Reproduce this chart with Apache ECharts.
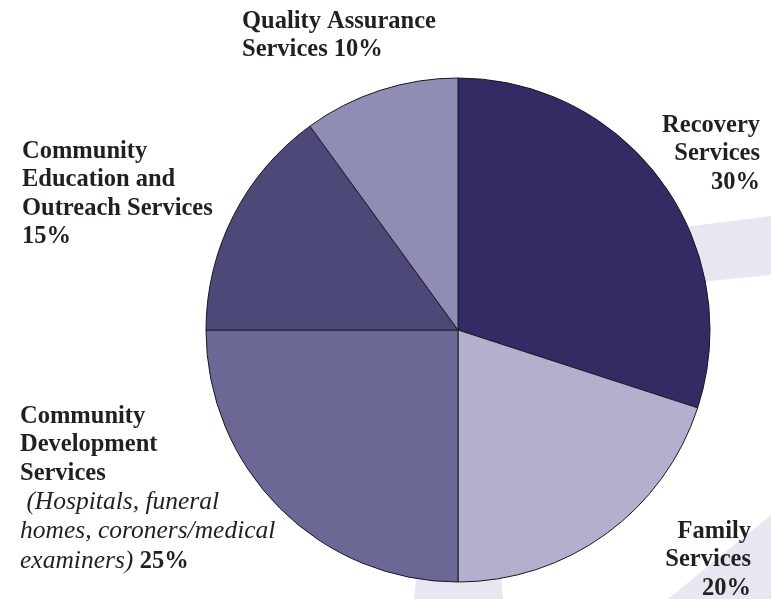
<!DOCTYPE html>
<html>
<head>
<meta charset="utf-8">
<script src="https://cdn.jsdelivr.net/npm/echarts@6/dist/echarts.min.js"></script>
<style>
  html, body { margin: 0; padding: 0; background: #ffffff; }
  #chart { width: 771px; height: 599px; }
</style>
</head>
<body>
<div id="chart"></div>
<script>
// ---- data ----
const categories = [
  'Recovery Services',
  'Family Services',
  'Community Development Services',
  'Community Education and Outreach Services',
  'Quality Assurance Services'
];
const values = [30, 20, 25, 15, 10];
const devNote = ['(Hospitals, funeral', 'homes, coroners/medical', 'examiners)'];

// ---- styles ----
const sliceColors = ['#332b63', '#b3b0cd', '#6b6896', '#4c4878', '#8f8db3'];
const labelPos = [
  { x: 760, y: 111, align: 'right' },
  { x: 751, y: 517, align: 'right' },
  { x: 20,  y: 402, align: 'left' },
  { x: 22,  y: 137, align: 'left' },
  { x: 242, y: 7,   align: 'left' }
];
const FONT = 'Liberation Serif';
const FS = 24.5;
const LH = 28.5;
const TXT = '#231f20';

function fmt(params) {
  const i = params.dataIndex;
  const pct = params.value + '%';
  switch (i) {
    case 0: return '{r|Recovery}\n{r|Services}\n{r|' + pct + '}';
    case 1: return '{r|Family}\n{r|Services}\n{r|' + pct + '}';
    case 2: return '{l|Community}\n{l|Development}\n{l|Services}\n{i| ' + devNote[0] + '}\n{i|' + devNote[1] + '}\n{i|' + devNote[2] + ' }{l|' + pct + '}';
    case 3: return '{l|Community}\n{l|Education and}\n{l|Outreach Services}\n{l|' + pct + '}';
    case 4: return '{l|Quality Assurance}\n{l|Services ' + pct + '}';
  }
}

const chart = echarts.init(document.getElementById('chart'), null, { renderer: 'canvas' });
const bg = '#e7e7f2';
chart.setOption({
  backgroundColor: '#ffffff',
  animation: false,
  graphic: [
    { type: 'polygon', z: -10, silent: true,
      shape: { points: [[600, 240], [650, 232], [700, 225], [771, 216], [771, 275], [700, 282], [650, 288], [600, 296]] },
      style: { fill: bg } },
    { type: 'polygon', z: -10, silent: true,
      shape: { points: [[418, 560], [500, 560], [503, 599], [414, 599]] },
      style: { fill: bg } },
    { type: 'polygon', z: -10, silent: true,
      shape: { points: [[771, 515], [771, 599], [668, 599]] },
      style: { fill: bg } }
  ],
  series: [{
    type: 'pie',
    center: [458, 330],
    radius: 252,
    startAngle: 90,
    clockwise: true,
    avoidLabelOverlap: false,
    itemStyle: { borderColor: '#1a1826', borderWidth: 1 },
    label: {
      show: true,
      position: 'outside',
      formatter: fmt,
      rich: {
        l: { fontFamily: FONT, fontSize: FS, fontWeight: 'bold', color: TXT, lineHeight: LH, align: 'left' },
        r: { fontFamily: FONT, fontSize: FS, fontWeight: 'bold', color: TXT, lineHeight: LH, align: 'right' },
        i: { fontFamily: FONT, fontSize: 25.5, fontStyle: 'italic', fontWeight: 'normal', color: TXT, lineHeight: LH + 1, align: 'left' }
      }
    },
    labelLine: { show: false },
    labelLayout: function (params) {
      const p = labelPos[params.dataIndex];
      return { x: p.x, y: p.y, align: p.align, verticalAlign: 'top', hideOverlap: false };
    },
    emphasis: { disabled: true },
    data: categories.map(function (name, i) {
      return { name: name, value: values[i], itemStyle: { color: sliceColors[i] } };
    })
  }]
});
</script>
</body>
</html>
